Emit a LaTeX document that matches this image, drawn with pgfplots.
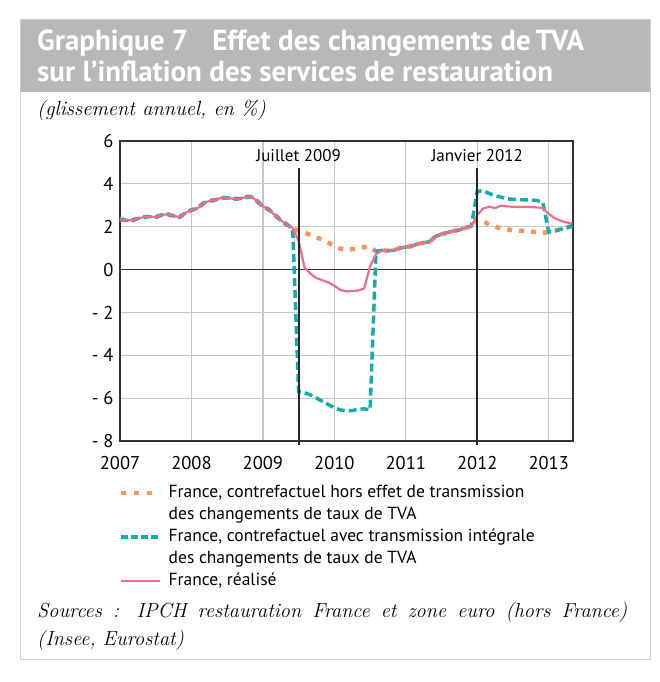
\documentclass[border=0pt]{standalone}
\usepackage{fontspec}
\usepackage{pgfplots}
\pgfplotsset{compat=1.18}
\newfontfamily\gs{PT Sans}
\definecolor{corange}{RGB}{247,150,95}
\definecolor{cteal}{RGB}{20,172,170}
\definecolor{cpink}{RGB}{238,108,140}
\definecolor{titlegray}{RGB}{183,184,186}
\definecolor{framegray}{RGB}{208,208,208}
\begin{document}
\begin{tikzpicture}[x=1pt,y=1pt]
\path (0,0) rectangle (660,682);
\fill[titlegray] (20,590) rectangle (650,662);
\draw[framegray, line width=1pt] (20,22) rectangle (650,662);
\node[anchor=base west, text=white, inner sep=0pt, font=\gs\bfseries\fontsize{29}{32}\selectfont] at (37,631) {Graphique 7\hspace{24pt}Effet des changements de\,TVA};
\node[anchor=base west, text=white, inner sep=0pt, font=\gs\bfseries\fontsize{29}{32}\selectfont] at (37,600) {sur l’inflation des services de restauration};
\node[anchor=base west, inner sep=0pt, font=\itshape\fontsize{20.5}{24}\selectfont] at (37,566) {(glissement annuel, en \%)};
\node[anchor=north west, inner sep=0pt, text width=590pt, align=justify, font=\itshape\fontsize{20.3}{28}\selectfont] at (37,80) {Sources : IPCH restauration France et zone euro (hors France)\linebreak (Insee, Eurostat)};
\begin{axis}[
  at={(120pt,241pt)}, anchor=south west,
  scale only axis, width=453pt, height=300pt,
  xmin=2007, xmax=2013.34, ymin=-8, ymax=6,
  xtick={2007,2008,2009,2010,2011,2012,2013},
  xticklabels={2007,2008,2009,2010,2011,2012,2013},
  ytick={-8,-6,-4,-2,0,2,4,6},
  yticklabels={- 8,- 6,- 4,- 2,0,2,4,6},
  grid=major, major grid style={black!22, line width=1.2pt},
  axis line style={black!80, line width=1.3pt},
  major tick length=0pt,
  tick label style={font=\gs\fontsize{18.5}{21}\selectfont},
  yticklabel style={xshift=-3pt},
  xticklabel style={yshift=-12pt},
  clip=false,
  legend cell align=left,
  legend image code/.code={\draw[#1] (0pt,0pt) -- (39pt,0pt);},
  legend style={at={(axis description cs:0,0)}, anchor=north west, xshift=-1pt, yshift=-44pt,
    draw=none, fill=none, inner sep=0pt, row sep=6pt, column sep=6pt,
    font=\gs\fontsize{17.5}{20}\selectfont,
    nodes={inner sep=0pt, text height=12.5pt, text depth=3.5pt}},
]
\draw[black!80, line width=1.2pt] (axis cs:2007,0) -- (axis cs:2013.34,0);
% orange: contrefactuel hors transmission
\addplot[forget plot, corange, line width=4.5pt, dash pattern=on 5pt off 7pt] coordinates {
(2007.000,2.35)(2007.083,2.30)(2007.167,2.30)(2007.250,2.38)(2007.333,2.45)(2007.417,2.47)
(2007.500,2.45)(2007.583,2.55)(2007.667,2.58)(2007.750,2.50)(2007.833,2.45)(2007.917,2.65)
(2008.000,2.78)(2008.083,2.85)(2008.167,3.10)(2008.250,3.20)(2008.333,3.25)(2008.417,3.35)
(2008.500,3.35)(2008.583,3.30)(2008.667,3.30)(2008.750,3.38)(2008.833,3.40)(2008.917,3.20)
(2009.000,2.95)(2009.083,2.80)(2009.167,2.55)(2009.250,2.30)(2009.333,2.10)(2009.417,1.93)
(2009.500,1.80)(2009.583,1.72)(2009.667,1.62)(2009.750,1.50)(2009.833,1.40)(2009.917,1.25)
(2010.000,1.10)(2010.083,0.98)(2010.167,0.92)(2010.250,0.95)(2010.333,0.97)(2010.417,1.05)
(2010.500,1.08)(2010.583,0.85)(2010.667,0.90)(2010.750,0.88)(2010.833,0.90)(2010.917,1.00)
(2011.000,1.05)(2011.083,1.10)(2011.167,1.20)(2011.250,1.25)(2011.333,1.30)(2011.417,1.55)
(2011.500,1.65)(2011.583,1.73)(2011.667,1.80)(2011.750,1.85)(2011.833,1.95)(2011.917,2.03)
(2012.000,2.30)(2012.083,2.25)(2012.167,2.10)(2012.250,2.00)(2012.333,1.92)(2012.417,1.88)
(2012.500,1.83)(2012.583,1.82)(2012.667,1.80)(2012.750,1.78)(2012.833,1.75)(2012.917,1.72)
(2013.000,1.75)(2013.083,1.82)(2013.167,1.88)(2013.250,1.95)(2013.333,2.05)};
% teal: contrefactuel avec transmission integrale
\addplot[forget plot, cteal, line width=3.5pt, dash pattern=on 8pt off 4pt] coordinates {
(2007.000,2.35)(2007.083,2.30)(2007.167,2.30)(2007.250,2.38)(2007.333,2.45)(2007.417,2.47)
(2007.500,2.45)(2007.583,2.55)(2007.667,2.58)(2007.750,2.50)(2007.833,2.45)(2007.917,2.65)
(2008.000,2.78)(2008.083,2.85)(2008.167,3.10)(2008.250,3.20)(2008.333,3.25)(2008.417,3.35)
(2008.500,3.35)(2008.583,3.30)(2008.667,3.30)(2008.750,3.38)(2008.833,3.40)(2008.917,3.20)
(2009.000,2.95)(2009.083,2.80)(2009.167,2.55)(2009.250,2.30)(2009.333,2.10)(2009.417,1.93)
(2009.500,-5.70)(2009.583,-5.75)(2009.667,-5.85)(2009.750,-6.00)(2009.833,-6.15)(2009.917,-6.30)
(2010.000,-6.45)(2010.083,-6.55)(2010.167,-6.60)(2010.250,-6.58)(2010.333,-6.52)(2010.417,-6.50)
(2010.500,-6.55)(2010.583,0.85)(2010.667,0.90)(2010.750,0.88)(2010.833,0.90)(2010.917,1.00)
(2011.000,1.05)(2011.083,1.10)(2011.167,1.20)(2011.250,1.25)(2011.333,1.30)(2011.417,1.55)
(2011.500,1.65)(2011.583,1.73)(2011.667,1.80)(2011.750,1.85)(2011.833,1.95)(2011.917,2.03)
(2012.000,3.65)(2012.083,3.68)(2012.167,3.55)(2012.250,3.45)(2012.333,3.38)(2012.417,3.30)
(2012.500,3.28)(2012.583,3.27)(2012.667,3.25)(2012.750,3.25)(2012.833,3.22)(2012.917,3.15)
(2013.000,1.75)(2013.083,1.80)(2013.167,1.88)(2013.250,1.95)(2013.333,2.05)};
% pink: realise
\addplot[forget plot, cpink, line width=2.2pt] coordinates {
(2007.000,2.35)(2007.083,2.30)(2007.167,2.30)(2007.250,2.38)(2007.333,2.45)(2007.417,2.47)
(2007.500,2.45)(2007.583,2.55)(2007.667,2.58)(2007.750,2.50)(2007.833,2.45)(2007.917,2.65)
(2008.000,2.78)(2008.083,2.85)(2008.167,3.10)(2008.250,3.20)(2008.333,3.25)(2008.417,3.35)
(2008.500,3.35)(2008.583,3.30)(2008.667,3.30)(2008.750,3.38)(2008.833,3.40)(2008.917,3.20)
(2009.000,2.95)(2009.083,2.80)(2009.167,2.55)(2009.250,2.30)(2009.333,2.10)(2009.417,1.93)
(2009.500,1.35)(2009.583,0.10)(2009.667,-0.20)(2009.750,-0.40)(2009.833,-0.50)(2009.917,-0.60)
(2010.000,-0.75)(2010.083,-0.95)(2010.167,-1.02)(2010.250,-1.00)(2010.333,-0.98)(2010.417,-0.88)
(2010.500,0.15)(2010.583,0.72)(2010.667,0.88)(2010.750,0.88)(2010.833,0.90)(2010.917,1.00)
(2011.000,1.05)(2011.083,1.10)(2011.167,1.20)(2011.250,1.25)(2011.333,1.30)(2011.417,1.55)
(2011.500,1.65)(2011.583,1.73)(2011.667,1.80)(2011.750,1.85)(2011.833,1.95)(2011.917,2.03)
(2012.000,2.55)(2012.083,2.85)(2012.167,2.93)(2012.250,2.87)(2012.333,2.98)(2012.417,2.95)
(2012.500,2.93)(2012.583,2.92)(2012.667,2.93)(2012.750,2.92)(2012.833,2.90)(2012.917,2.88)
(2013.000,2.60)(2013.083,2.40)(2013.167,2.28)(2013.250,2.20)(2013.333,2.15)};
% event lines
\addplot[forget plot, black!85, line width=2.2pt] coordinates {(2009.5,4.74)(2009.5,-8.18)};
\addplot[forget plot, black!85, line width=2.2pt] coordinates {(2012,4.74)(2012,-8.18)};
\node[anchor=base, inner sep=0pt, font=\gs\fontsize{17}{20}\selectfont] at (axis cs:2009.5,5.04) {Juillet 2009};
\node[anchor=base, inner sep=0pt, font=\gs\fontsize{17}{20}\selectfont] at (axis cs:2012,5.04) {Janvier 2012};
% legend
\addlegendimage{corange, line width=4.5pt, dash pattern=on 5pt off 8pt}
\addlegendimage{empty legend}
\addlegendimage{cteal, line width=3.5pt, dash pattern=on 7pt off 3pt}
\addlegendimage{empty legend}
\addlegendimage{cpink, line width=2.2pt}
\legend{France{,} contrefactuel hors effet de transmission,
        des changements de taux de TVA,
        France{,} contrefactuel avec transmission intégrale,
        des changements de taux de TVA,
        France{,} réalisé}
\end{axis}
\end{tikzpicture}
\end{document}
